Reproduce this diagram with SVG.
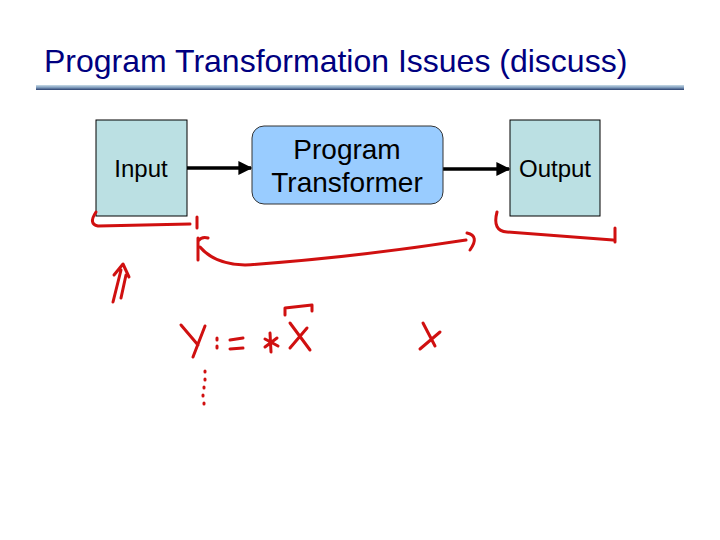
<svg xmlns="http://www.w3.org/2000/svg" width="720" height="540" viewBox="0 0 720 540">
<defs>
<linearGradient id="rule" x1="0" y1="0" x2="0" y2="1">
<stop offset="0" stop-color="#c8dce8"/>
<stop offset="0.5" stop-color="#7f9cbc"/>
<stop offset="1" stop-color="#2a3f6e"/>
</linearGradient>
<marker id="ah" viewBox="0 0 10 10" refX="9" refY="5" markerWidth="4" markerHeight="4" orient="auto" markerUnits="strokeWidth">
<path d="M0,0 L10,5 L0,10 z" fill="#000"/>
</marker>
<style>
.t{font-family:"Liberation Sans",Arial,sans-serif;fill:#000}
.sq{fill:#bbe0e3;stroke:#000;stroke-width:1}
.ink{fill:none;stroke:#d01010;stroke-width:3;stroke-linecap:round;stroke-linejoin:round}
.con{stroke:#000;stroke-width:3.5;fill:none}
</style>
</defs>
<rect width="720" height="540" fill="#fff"/>
<text x="44" y="72" class="t" font-size="32" style="fill:#000080">Program Transformation Issues (discuss)</text>
<rect x="36" y="85" width="648" height="5" fill="url(#rule)"/>
<g id="connectors">
<line x1="187" y1="168" x2="251" y2="168" class="con" marker-end="url(#ah)"/>
<line x1="443" y1="169" x2="509" y2="169" class="con" marker-end="url(#ah)"/>
</g>
<g id="input">
<rect x="96" y="120" width="91" height="96" class="sq"/>
<text x="141" y="177" class="t" font-size="24" text-anchor="middle">Input</text>
</g>
<g id="transformer">
<rect x="252" y="126" width="191" height="78" rx="12" fill="#99ccff" stroke="#333" stroke-width="1"/>
<text x="347" y="159" class="t" font-size="28" text-anchor="middle">Program</text>
<text x="347" y="192" class="t" font-size="28" text-anchor="middle">Transformer</text>
</g>
<g id="output">
<rect x="510" y="120" width="90" height="96" class="sq"/>
<text x="555" y="177" class="t" font-size="24" text-anchor="middle">Output</text>
</g>
<g id="ink">
<path class="ink" d="M96 212 Q88 224 98 226 L190 224"/>
<path class="ink" d="M197 217 L197 228"/>
<path class="ink" d="M198 238 L198 260 M198 241 Q202 236 208 238"/>
<path class="ink" d="M200 247 Q214 264 245 265 Q350 258 466 240"/>
<path class="ink" d="M467 233 Q480 236 470 250"/>
<path class="ink" d="M497 212 Q492 231 507 232 L613 240 M615 228 L615 242"/>
<path class="ink" d="M113 302 L121 270 M121 298 L126 275 M114 275 L123 264 L129 277"/>
<path class="ink" d="M181 325 L198 345 M205 326 L193 357"/>
<path class="ink" d="M217 338 L217 340 M217 346 L217 348"/>
<path class="ink" d="M230 340 L243 338 M230 349 L243 348"/>
<path class="ink" d="M270 333 L271 352 M265 339 L278 346 M265 347 L277 338"/>
<path class="ink" d="M290 323 L310 350 M307 328 L290 348"/>
<path class="ink" d="M285 315 L285 308 L312 305 L312 311"/>
<path class="ink" d="M205 371 L205 372 M205 379 L205 380 M204 387 L204 388 M203 395 L203 396 M204 403 L204 404"/>
<path class="ink" d="M423 323 L435 346 M440 332 L420 349"/>
</g>
</svg>
